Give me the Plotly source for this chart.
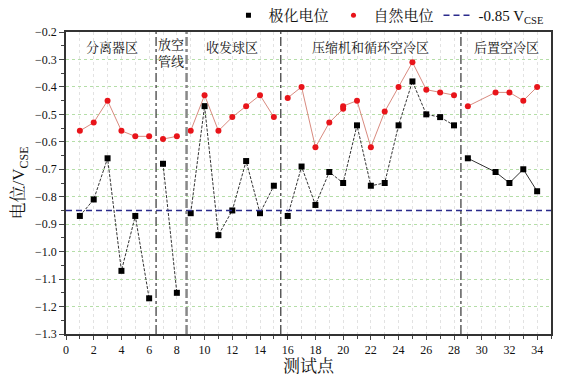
import plotly.graph_objects as go

# ---- data ----
x_pts = [1, 2, 3, 4, 5, 6, 7, 8, 9, 10, 11, 12, 13, 14, 15,
         16, 17, 18, 19, 20, 21, 22, 23, 24, 25, 26, 27, 28,
         29, 31, 32, 33, 34]
polarized = [-0.87, -0.81, -0.66, -1.07, -0.87, -1.17,
             -0.68, -1.15,
             -0.86, -0.47, -0.94, -0.85, -0.67, -0.86, -0.76,
             -0.87, -0.69, -0.83, -0.71, -0.75, -0.54, -0.76, -0.75, -0.54, -0.38, -0.50, -0.51, -0.54,
             -0.66, -0.71, -0.75, -0.70, -0.78]
x_nat = [1, 2, 3, 4, 5, 6, 7, 8, 9, 10, 11, 12, 13, 14, 15,
         16, 17, 18, 19, 20, 20, 21, 22, 23, 24, 25, 26, 27, 28,
         29, 31, 32, 33, 34]
natural = [-0.56, -0.53, -0.45, -0.56, -0.58, -0.58,
           -0.59, -0.58,
           -0.56, -0.43, -0.56, -0.51, -0.47, -0.43, -0.51,
           -0.44, -0.40, -0.62, -0.53, -0.48, -0.47, -0.45, -0.62, -0.49, -0.40, -0.31, -0.41, -0.42, -0.43,
           -0.47, -0.42, -0.42, -0.45, -0.40]
region_bounds = [6.5, 8.7, 15.5, 28.5]
region_names = ["分离器区", "放空<br>管线", "收发球区", "压缩机和循环空冷区", "后置空冷区"]
region_centers = [3.3, 7.6, 12.0, 22.0, 31.8]
criterion = -0.85

serif = "'Liberation Serif', 'Times New Roman', 'Noto Serif CJK SC', 'Noto Sans CJK SC', serif"

def split(xs, ys):
    """insert gaps at region boundaries"""
    ox, oy = [], []
    prev = None
    for x, y in zip(xs, ys):
        if prev is not None and any(prev < b < x for b in region_bounds):
            ox.append(None); oy.append(None)
        ox.append(x); oy.append(y)
        prev = x
    return ox, oy

fig = go.Figure()

last = region_bounds[-1]
bx1 = [x for x in x_pts if x < last]
by1 = [y for x, y in zip(x_pts, polarized) if x < last]
bx2 = [x for x in x_pts if x > last]
by2 = [y for x, y in zip(x_pts, polarized) if x > last]
gx, gy = split(bx1, by1)
fig.add_trace(go.Scatter(x=gx, y=gy, mode="lines+markers", showlegend=False,
                         line=dict(color="#333333", width=1, dash="3px,1.5px"),
                         marker=dict(symbol="square", size=6, color="#000000"),
                         connectgaps=False))
fig.add_trace(go.Scatter(x=bx2, y=by2, mode="lines+markers", showlegend=False,
                         line=dict(color="#333333", width=1),
                         marker=dict(symbol="square", size=6, color="#000000")))
rx, ry = split(x_nat, natural)
fig.add_trace(go.Scatter(x=rx, y=ry, mode="lines+markers", showlegend=False,
                         line=dict(color="#d98b80", width=1),
                         marker=dict(symbol="circle", size=6, color="#e8141a"),
                         connectgaps=False))
fig.add_trace(go.Scatter(x=[0, 35], y=[criterion, criterion], mode="lines",
                         name="-0.85 V<sub>CSE</sub>", legendrank=3,
                         line=dict(color="#2b2b8c", width=1.5, dash="6px,4px")))
fig.add_trace(go.Scatter(x=[None], y=[None], mode="markers", name="极化电位", legendrank=1,
                         marker=dict(symbol="square", size=5, color="#000000")))
fig.add_trace(go.Scatter(x=[None], y=[None], mode="markers", name="自然电位", legendrank=2,
                         marker=dict(symbol="circle", size=5, color="#e8141a")))

for b in region_bounds:
    if b == 8.7:
        fig.add_shape(type="line", x0=b, x1=b, y0=0, y1=1, xref="x", yref="paper",
                      line=dict(color="#888888", width=2.5, dash="dashdot"))
    else:
        fig.add_shape(type="line", x0=b, x1=b, y0=0, y1=1, xref="x", yref="paper",
                      line=dict(color="#333333", width=1.2, dash="dashdot"))

for name, cx in zip(region_names, region_centers):
    fig.add_annotation(x=cx, y=-0.255 if "<br>" not in name else -0.275,
                       text=name, showarrow=False,
                       font=dict(family=serif, size=13, color="#111111"))

# page body has an 8px margin: figure is sized so the plot lands where the reference has it
fig.update_layout(
    width=547, height=376,
    margin=dict(l=58, r=4, t=24, b=50, autoexpand=False),
    paper_bgcolor="white", plot_bgcolor="white",
    font=dict(family=serif, size=12, color="#111111"),
    legend=dict(orientation="h", x=0.335, xanchor="left", y=1.055, yanchor="middle",
                font=dict(family=serif, size=15), traceorder="normal",
                itemwidth=30, bgcolor="rgba(0,0,0,0)"),
)

fig.update_xaxes(range=[0, 35], dtick=2, tick0=0, ticks="outside", ticklen=4,
                 showline=True, linecolor="#333333", linewidth=1.5, mirror=True,
                 showgrid=True, gridcolor="#e2e2e2", griddash="dot", gridwidth=1,
                 minor=dict(dtick=1, ticks="outside", ticklen=3, showgrid=True,
                            gridcolor="#e2e2e2", griddash="dot"),
                 zeroline=False,
                 title=dict(text="测试点", font=dict(family=serif, size=17), standoff=4),
                 tickfont=dict(family=serif, size=12))
fig.update_yaxes(range=[-1.3, -0.2], dtick=0.1, tick0=-0.2, tickformat=".1f",
                 ticks="outside", ticklen=5,
                 showline=True, linecolor="#333333", linewidth=1.5, mirror=True,
                 showgrid=True, gridcolor="#b5dea8", griddash="dot", gridwidth=1,
                 minor=dict(dtick=0.05, ticks="outside", ticklen=3, showgrid=False),
                 zeroline=False,
                 title=dict(text="电位/V<sub>CSE</sub>", font=dict(family=serif, size=17), standoff=6),
                 tickfont=dict(family=serif, size=12))

fig.write_html("out.html")
